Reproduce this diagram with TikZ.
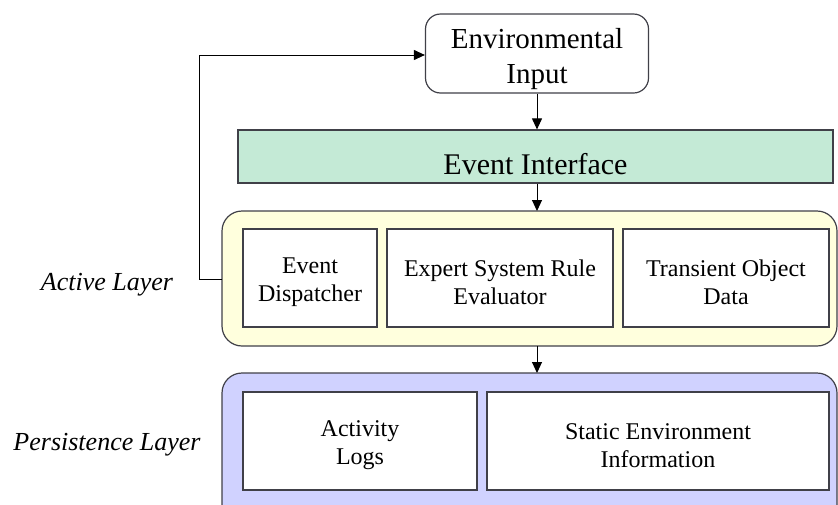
\documentclass[tikz,border=0pt]{standalone}
\usepackage{fontspec}
\setmainfont{Liberation Serif}
\usetikzlibrary{arrows.meta}
\definecolor{mint}{RGB}{196,234,214}
\definecolor{paleyellow}{RGB}{255,255,221}
\definecolor{lavender}{RGB}{208,210,255}
\definecolor{edge}{RGB}{64,64,72}
\tikzset{
  x=1pt, y=-1pt,
  conn/.style={draw=black, line width=1pt, -{Triangle[length=11pt,width=10pt]}},
  inbox/.style={draw=edge, line width=1.2pt, fill=white, align=center, font=\fontsize{24}{28}\selectfont, inner sep=0pt},
  layer/.style={draw=edge, line width=1.2pt, rounded corners=20pt},
  lbl/.style={font=\fontsize{26}{30}\selectfont\itshape}
}
\begin{document}
\begin{tikzpicture}
\useasboundingbox (0,0) rectangle (838,504);
% layers
\path[layer, fill=paleyellow] (222,211) rectangle (837,346);
\path[layer, fill=lavender] (222,373) rectangle (837,525);
\coordinate (actW) at (222,279);
\coordinate (actS) at (537,346);
\coordinate (perN) at (537,373);
% top nodes
\node[draw=edge, line width=1.2pt, rounded corners=15pt, fill=white, align=center,
      minimum width=223pt, minimum height=79pt, inner sep=0pt,
      font=\fontsize{29}{35}\selectfont] (env) at (537,53.5) {\rule{0pt}{32pt}Environmental\\Input};
\node[draw=edge, line width=1.2pt, fill=mint, minimum width=595pt, minimum height=53pt,
      inner sep=0pt, font=\fontsize{30}{34}\selectfont] (ei) at (535.5,156.5) {\rule{0pt}{36pt}Event Interface};
% active layer boxes
\node[inbox, minimum width=134pt, minimum height=98pt] (disp) at (310,278) {\rule{0pt}{25pt}Event\\Dispatcher};
\node[inbox, minimum width=226pt, minimum height=98pt] (rule) at (500,278) {\rule{0pt}{25pt}Expert System Rule\\Evaluator};
\node[inbox, minimum width=206pt, minimum height=98pt] (trans) at (726,278) {\rule{0pt}{25pt}Transient Object\\Data};
% persistence layer boxes
\node[inbox, minimum width=234pt, minimum height=98pt] (logs) at (360,441) {\rule{0pt}{25pt}Activity\\Logs};
\node[inbox, minimum width=342pt, minimum height=98pt] (stat) at (658,441) {\rule{0pt}{25pt}Static Environment\\Information};
% labels
\node[lbl] (alab) at (107,285) {Active Layer};
\node[lbl] (plab) at (107,445) {Persistence Layer};
% connectors
\draw[conn] (env.south -| actS) -- (ei.north -| actS);
\draw[conn] (ei.south -| actS) -- (actS |- 0,211);
\draw[conn] (actS) -- (perN);
\draw[conn] (actW) -- (199,279) -- (199,55) -- (env.west |- 0,55);
\end{tikzpicture}
\end{document}
